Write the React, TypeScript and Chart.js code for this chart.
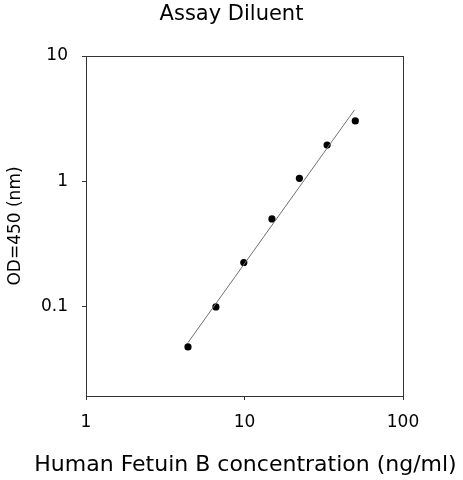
import React, { useEffect, useRef } from "react";
import { Chart, registerables } from "chart.js";

Chart.register(...registerables);

const concentrations = [4.4, 6.6, 9.9, 14.9, 22.2, 33.2, 50];
const odValues = [0.048, 0.1, 0.226, 0.503, 1.06, 1.95, 3.04];
const fitX = [4.4, 49.3];
const fitY = [0.052, 3.7];
const xTicks = [1, 10, 100];
const yTicks = [0.1, 1, 10];
const chartTitle = "Assay Diluent";
const xTitle = "Human Fetuin B concentration (ng/ml)";

const FONT = "'DejaVu Sans', sans-serif";
const AXIS = "#333333";

const frame = {
  id: "frame",
  afterDraw(chart: any) {
    const { ctx, chartArea, width } = chart;
    const l = Math.round(chartArea.left) + 0.5;
    const t = Math.round(chartArea.top) + 0.5;
    const r = Math.round(chartArea.right) + 0.5;
    const b = Math.round(chartArea.bottom) + 0.5;
    ctx.save();
    ctx.strokeStyle = AXIS;
    ctx.lineWidth = 1;
    ctx.strokeRect(l, t, r - l, b - t);
    ctx.fillStyle = "#000";
    ctx.textAlign = "center";
    ctx.textBaseline = "middle";
    ctx.font = `21px ${FONT}`;
    ctx.fillText(chartTitle, width / 2, 15);
    ctx.font = `22px ${FONT}`;
    ctx.fillText(xTitle, (chartArea.left + chartArea.right) / 2 + 1, 465);
    ctx.restore();
  },
};

export default function App() {
  const ref = useRef<HTMLCanvasElement | null>(null);
  useEffect(() => {
    if (!ref.current) return;
    const chart = new Chart(ref.current, {
      type: "scatter",
      data: {
        datasets: [
          {
            label: "fit",
            data: fitX.map((x, i) => ({ x, y: fitY[i] })),
            showLine: true,
            borderColor: "#707070",
            borderWidth: 1,
            pointRadius: 0,
            fill: false,
          },
          {
            label: "points",
            data: concentrations.map((x, i) => ({ x, y: odValues[i] })),
            pointRadius: 3.6,
            pointBackgroundColor: "#000",
            pointBorderColor: "#000",
            pointBorderWidth: 0,
            showLine: false,
          },
        ],
      },
      options: {
        animation: false,
        responsive: true,
        maintainAspectRatio: false,
        layout: { padding: { left: 0, right: 60, top: 56, bottom: 0 } },
        plugins: {
          legend: { display: false },
          tooltip: { enabled: false },
          title: { display: false },
        },
        scales: {
          x: {
            type: "logarithmic",
            min: 1,
            max: 100,
            afterBuildTicks: (s: any) => {
              s.ticks = xTicks.map((v) => ({ value: v }));
            },
            afterFit: (s: any) => {
              s.height = 84;
            },
            ticks: {
              color: "#000",
              font: { family: FONT, size: 17 },
              padding: 12,
              maxRotation: 0,
              autoSkip: false,
              callback: (v: any) => String(v),
            },
            grid: {
              display: true,
              drawOnChartArea: false,
              drawTicks: true,
              tickLength: 4,
              color: AXIS,
            },
            border: { display: false },
          },
          y: {
            type: "logarithmic",
            min: 0.0195,
            max: 10,
            afterBuildTicks: (s: any) => {
              s.ticks = yTicks.map((v) => ({ value: v }));
            },
            afterFit: (s: any) => {
              s.width = 86;
            },
            ticks: {
              color: "#000",
              font: { family: FONT, size: 17 },
              padding: 14,
              autoSkip: false,
              callback: (v: any) => String(v),
            },
            grid: {
              display: true,
              drawOnChartArea: false,
              drawTicks: true,
              tickLength: 4,
              color: AXIS,
            },
            border: { display: false },
            title: {
              display: true,
              text: "OD=450 (nm)",
              color: "#000",
              font: { family: FONT, size: 17 },
              padding: { top: 5, bottom: 0 },
            },
          },
        },
      },
      plugins: [frame],
    });
    return () => chart.destroy();
  }, []);
  return (
    <div style={{ position: "absolute", left: 0, top: 0, width: 463, height: 480, background: "#fff" }}>
      <canvas ref={ref} />
    </div>
  );
}
